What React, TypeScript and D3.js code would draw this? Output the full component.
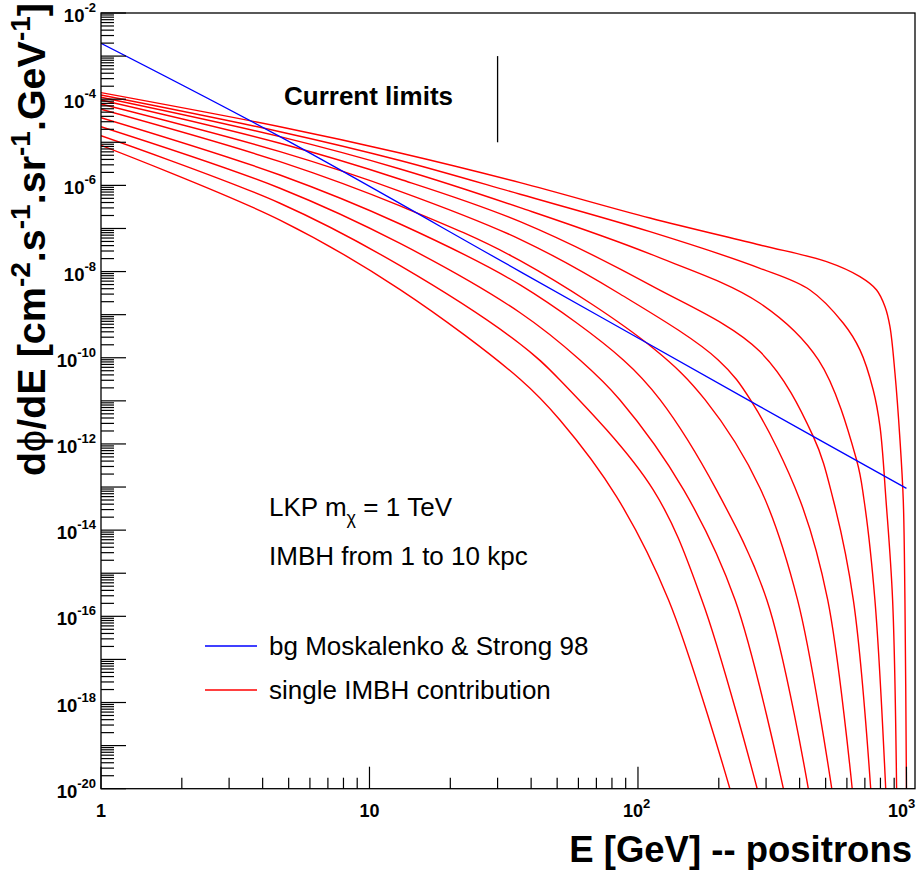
import React from "react";
import * as d3 from "d3";

// Axis ranges (log-log)
const X_MIN = 1;
const X_MAX = 1076;
const Y_MIN = 1e-20;
const Y_MAX = 1e-2;

// Tick labels
const xTickValues = [1, 10, 100, 1000];
const xTickLabels: [string, string][] = [["1", ""], ["10", ""], ["10", "2"], ["10", "3"]];
const yLabelExponents = [-2, -4, -6, -8, -10, -12, -14, -16, -18, -20];

// Background positron flux (Moskalenko & Strong 98): [E (GeV), dPhi/dE]
const bgEnergy = [1, 4.64, 36.4, 284.7, 1000];
const bgFlux = [1.98e-3, 1.35e-5, 1.0e-8, 7.35e-12, 9.3e-14];

// Single IMBH contributions, nearest (1 kpc) to farthest (10 kpc): [E (GeV), dPhi/dE]
const imbh1: [number, number][] = [
  [1, 1.42e-4], [4.64, 2.3e-5], [13, 5.65e-6], [36.4, 1.16e-6], [110.8, 1.75e-7],
  [284.7, 4.14e-8], [504, 1.7e-8], [671, 7.62e-9], [774, 3.74e-9], [832, 1.53e-9],
  [868, 5.27e-10], [906, 4.44e-11], [946, 1.24e-12], [973, 5.0e-14], [987, 2.4e-16], [1000, 1e-20],
];
const imbh2: [number, number][] = [
  [1, 1.25e-4], [4.64, 1.76e-5], [13, 3.78e-6], [36.4, 6.21e-7], [110.8, 8.43e-8],
  [284.7, 1.19e-8], [437, 3.74e-9], [582, 6.31e-10], [671, 1.52e-10], [752, 1.79e-11],
  [797, 2.52e-12], [839, 5.0e-14], [888, 2.4e-16], [919, 1e-20],
];
const imbh3: [number, number][] = [
  [1, 1.11e-4], [4.64, 1.35e-5], [13, 2.4e-6], [36.4, 3.04e-7], [110.8, 2.56e-8],
  [284.7, 1.84e-9], [470, 8.89e-11], [652, 4.25e-13], [695, 5.0e-14], [763, 2.4e-16], [837, 1e-20],
];
const imbh4: [number, number][] = [
  [1, 9.58e-5], [4.64, 9.48e-6], [13, 1.39e-6], [36.4, 1.44e-7], [110.8, 4.89e-9],
  [284.7, 1.39e-10], [450, 1.48e-12], [534, 5.0e-14], [634, 2.4e-16], [736, 1e-20],
];
const imbh5: [number, number][] = [
  [1, 7.74e-5], [4.64, 6.05e-6], [13, 7.29e-7], [36.4, 5.61e-8], [85.7, 3.02e-9],
  [199, 8.89e-11], [265, 9.58e-12], [401, 5.0e-14], [509, 2.4e-16], [628, 1e-20],
];
const imbh6: [number, number][] = [
  [1, 5.83e-5], [4.64, 3.55e-6], [13, 3.33e-7], [36.4, 1.79e-8], [114, 1.66e-10],
  [178, 1.05e-11], [285, 9.38e-14], [393, 2.4e-16], [527, 1e-20],
];
const imbh7: [number, number][] = [
  [1, 3.72e-5], [4.64, 1.74e-6], [13, 1.27e-7], [36.4, 4.89e-9], [88.2, 8.89e-11],
  [121, 1.05e-11], [196, 8.57e-14], [302, 2.4e-16], [431, 1e-20],
];
const imbh8: [number, number][] = [
  [1, 2.3e-5], [4.64, 8.57e-7], [13, 4.49e-8], [36.4, 1.11e-9], [60.8, 8.89e-11],
  [85.7, 1.05e-11], [148, 8.57e-14], [230, 2.4e-16], [348, 1e-20],
];
const imbh9: [number, number][] = [
  [1, 1.42e-5], [4.64, 3.85e-7], [13, 1.37e-8], [36.4, 2.09e-10], [51.2, 3.05e-11],
  [114, 8.57e-14], [173, 2.4e-16], [278, 1e-20],
];
const imbh10: [number, number][] = [
  [1, 8.51e-6], [4.64, 1.57e-7], [13, 3.82e-9], [36.4, 3.17e-11], [51.2, 3.6e-12],
  [83.3, 5.9e-14], [130, 2.4e-16], [220, 1e-20],
];
const imbhCurves = [imbh1, imbh2, imbh3, imbh4, imbh5, imbh6, imbh7, imbh8, imbh9, imbh10];

// Marker for current experimental limits
const limitEnergy = 30;
const limitFlux = [1e-5, 1e-3];

const FONT = "'Liberation Sans', Arial, Helvetica, sans-serif";
const W = 917;
const H = 872;
const PLOT = { left: 101, right: 915, top: 13, bottom: 788.7 };

export default function App() {
  const x = d3.scaleLog().domain([X_MIN, X_MAX]).range([PLOT.left, PLOT.right]);
  const y = d3.scaleLog().domain([Y_MIN, Y_MAX]).range([PLOT.bottom, PLOT.top]);

  const line = d3
    .line<[number, number]>()
    .x((d) => x(d[0]))
    .y((d) => y(d[1]))
    .curve(d3.curveCatmullRom.alpha(0.5));

  const bgPoints: [number, number][] = bgEnergy.map((e, i) => [e, bgFlux[i]]);

  // x ticks
  const xMinor: number[] = [];
  for (const d of [1, 10, 100, 1000]) {
    for (let k = 2; k <= 9; k++) {
      const v = k * d;
      if (v < X_MAX) xMinor.push(v);
    }
  }
  // y ticks
  const yMajor: number[] = [];
  const yMinor: number[] = [];
  for (let e = -20; e <= -2; e++) {
    yMajor.push(Number(`1e${e}`));
    if (e < -2) for (let k = 2; k <= 9; k++) yMinor.push(Number(`${k}e${e}`));
  }

  return (
    <svg
      width={W}
      height={H}
      style={{ position: "absolute", left: 0, top: 0, background: "#fff" }}
      fontFamily={FONT}
    >
      <defs>
        <clipPath id="plotArea">
          <rect x={PLOT.left} y={PLOT.top} width={PLOT.right - PLOT.left} height={PLOT.bottom - PLOT.top} />
        </clipPath>
      </defs>

      {/* curves */}
      <g clipPath="url(#plotArea)" fill="none">
        {imbhCurves.map((c, i) => (
          <path key={i} d={line(c) || ""} stroke="#ff0000" strokeWidth={1.4} />
        ))}
        <path d={line(bgPoints) || ""} stroke="#0000ff" strokeWidth={1.3} />
      </g>

      {/* frame */}
      <rect
        x={PLOT.left}
        y={PLOT.top}
        width={PLOT.right - PLOT.left}
        height={PLOT.bottom - PLOT.top}
        fill="none"
        stroke="#000"
        strokeWidth={1.3}
      />

      {/* ticks */}
      <g stroke="#000" strokeWidth={1.2}>
        {xTickValues.map((v) => (
          <line key={"xM" + v} x1={x(v)} x2={x(v)} y1={PLOT.bottom} y2={PLOT.bottom - 22} />
        ))}
        {xMinor.map((v) => (
          <line key={"xm" + v} x1={x(v)} x2={x(v)} y1={PLOT.bottom} y2={PLOT.bottom - 11} />
        ))}
        {yMajor.map((v) => (
          <line key={"yM" + v} x1={PLOT.left} x2={PLOT.left + 25} y1={y(v)} y2={y(v)} />
        ))}
        {yMinor.map((v) => (
          <line key={"ym" + v} x1={PLOT.left} x2={PLOT.left + 13} y1={y(v)} y2={y(v)} />
        ))}
      </g>

      {/* x tick labels */}
      <g fontWeight="bold" fontSize={18} fill="#000">
        {xTickValues.map((v, i) => {
          const [base, sup] = xTickLabels[i];
          if (!sup)
            return (
              <text key={"xl" + v} x={x(v)} y={817} textAnchor="middle">
                {base}
              </text>
            );
          // keep the last label inside the drawing
          const start = Math.min(x(v) - 15, W - 29);
          return (
            <text key={"xl" + v} x={start} y={817}>
              {base}
              <tspan fontSize={13} dy={-9}>
                {sup}
              </tspan>
            </text>
          );
        })}
      </g>

      {/* y tick labels */}
      <g fontWeight="bold" fontSize={18.5} fill="#000">
        {yLabelExponents.map((e) => {
          const yy = y(Number(`1e${e}`));
          return (
            <text key={"yl" + e} x={96} y={yy + 9} textAnchor="end">
              10
              <tspan fontSize={13} dy={-10}>
                {String(e)}
              </tspan>
            </text>
          );
        })}
      </g>

      {/* axis titles */}
      <text x={912} y={862} textAnchor="end" fontWeight="bold" fontSize={36.5}>
        E [GeV] -- positrons
      </text>
      <text transform="translate(45,3) rotate(-90)" textAnchor="end" fontWeight="bold" fontSize={39.5}>
        d<tspan fontWeight="normal">ϕ</tspan>/dE [cm
        <tspan fontSize={28} dy={-15}>-2</tspan>
        <tspan dy={15}>.s</tspan>
        <tspan fontSize={28} dy={-15}>-1</tspan>
        <tspan dy={15}>.sr</tspan>
        <tspan fontSize={28} dy={-15}>-1</tspan>
        <tspan dy={15}>.GeV</tspan>
        <tspan fontSize={28} dy={-15}>-1</tspan>
        <tspan dy={15}>]</tspan>
      </text>

      {/* current limits marker */}
      <line
        x1={x(limitEnergy)}
        x2={x(limitEnergy)}
        y1={y(limitFlux[0])}
        y2={y(limitFlux[1])}
        stroke="#000"
        strokeWidth={1.3}
      />
      <text x={284} y={105} fontWeight="bold" fontSize={26}>
        Current limits
      </text>

      {/* annotations */}
      <text x={269} y={516} fontSize={26}>
        LKP m
        <tspan fontSize={18} dy={8}>χ</tspan>
        <tspan dy={-8}> = 1 TeV</tspan>
      </text>
      <text x={269} y={565} fontSize={26}>
        IMBH from 1 to 10 kpc
      </text>

      {/* legend */}
      <line x1={205} x2={257} y1={646} y2={646} stroke="#0000ff" strokeWidth={1.3} />
      <text x={269} y={655} fontSize={26}>
        bg Moskalenko &amp; Strong 98
      </text>
      <line x1={205} x2={257} y1={690} y2={690} stroke="#ff0000" strokeWidth={1.3} />
      <text x={269} y={699} fontSize={26}>
        single IMBH contribution
      </text>
    </svg>
  );
}
